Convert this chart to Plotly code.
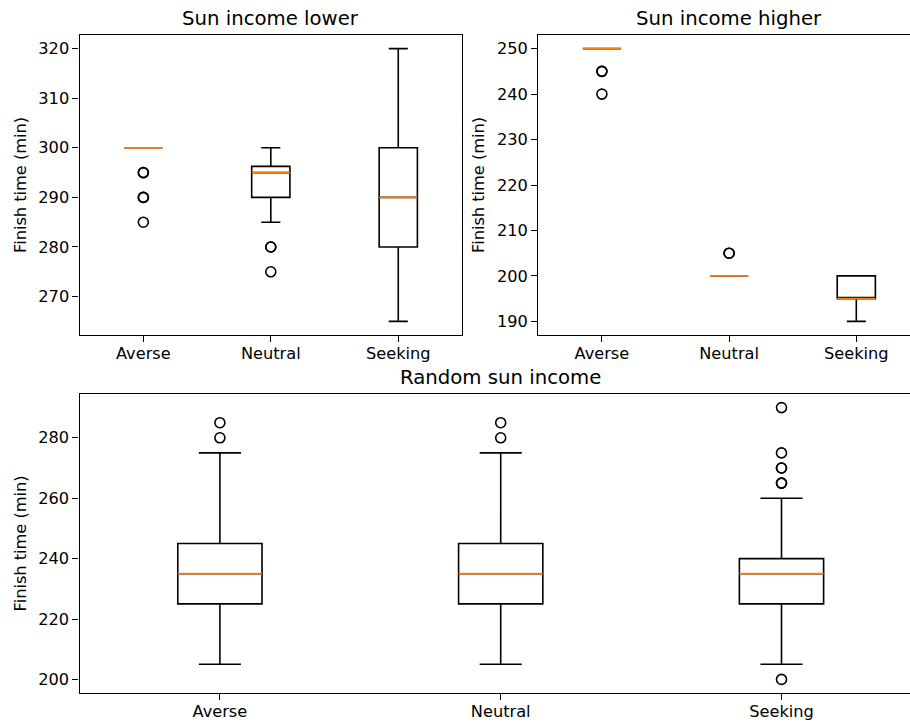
import plotly.graph_objects as go

# ---------------- data ----------------
categories = ["Averse", "Neutral", "Seeking"]
positions = [1, 2, 3]

# Sun income lower
low_q1 = [300, 290, 280]
low_median = [300, 295, 290]
low_q3 = [300, 296.25, 300]
low_lowerfence = [300, 285, 265]
low_upperfence = [300, 300, 320]
low_outliers = [[295, 295, 290, 290, 285], [280, 280, 275], []]

# Sun income higher
high_q1 = [250, 200, 195]
high_median = [250, 200, 195]
high_q3 = [250, 200, 200]
high_lowerfence = [250, 200, 190]
high_upperfence = [250, 200, 200]
high_outliers = [[245, 245, 240], [205, 205], []]

# Random sun income
rand_q1 = [225, 225, 225]
rand_median = [235, 235, 235]
rand_q3 = [245, 245, 240]
rand_lowerfence = [205, 205, 205]
rand_upperfence = [275, 275, 260]
rand_outliers = [[280, 285], [280, 285], [265, 265, 270, 270, 275, 290, 200]]

titles = ["Sun income lower", "Sun income higher", "Random sun income"]
ylabel = "Finish time (min)"

# ---------------- style ----------------
W, H = 910, 724
FONT = "DejaVu Sans"
BOXW = 0.3
ORANGE = "#ff7f0e"

fig = go.Figure()

panels = [
    dict(q1=low_q1, med=low_median, q3=low_q3, lf=low_lowerfence, uf=low_upperfence,
         out=low_outliers, xa="x", ya="y"),
    dict(q1=high_q1, med=high_median, q3=high_q3, lf=high_lowerfence, uf=high_upperfence,
         out=high_outliers, xa="x2", ya="y2"),
    dict(q1=rand_q1, med=rand_median, q3=rand_q3, lf=rand_lowerfence, uf=rand_upperfence,
         out=rand_outliers, xa="x3", ya="y3"),
]

for p in panels:
    fig.add_trace(go.Box(
        x=positions, q1=p["q1"], median=p["med"], q3=p["q3"],
        lowerfence=p["lf"], upperfence=p["uf"],
        width=BOXW, whiskerwidth=0.5, boxpoints=False,
        line=dict(color="black", width=1.6), fillcolor="rgba(0,0,0,0)",
        xaxis=p["xa"], yaxis=p["ya"], showlegend=False, hoverinfo="skip",
    ))
    mx, my = [], []
    for pos, m in zip(positions, p["med"]):
        mx += [pos - BOXW / 2, pos + BOXW / 2, None]
        my += [m, m, None]
    fig.add_trace(go.Scatter(
        x=mx, y=my, mode="lines", line=dict(color=ORANGE, width=1.8),
        xaxis=p["xa"], yaxis=p["ya"], showlegend=False, hoverinfo="skip",
    ))
    ox, oy = [], []
    for pos, outs in zip(positions, p["out"]):
        ox += [pos] * len(outs)
        oy += outs
    fig.add_trace(go.Scatter(
        x=ox, y=oy, mode="markers",
        marker=dict(symbol="circle-open", size=10, color="black", line=dict(width=1.6, color="black")),
        xaxis=p["xa"], yaxis=p["ya"], showlegend=False, hoverinfo="skip",
    ))

def px_x(v):
    return v / W

def px_y(v):
    return 1 - v / H

tickfont = dict(family=FONT, size=16.2, color="black")
common_x = dict(tickmode="array", tickvals=positions, ticktext=categories,
                ticks="outside", ticklen=6, tickwidth=1.3, tickcolor="black",
                showline=True, linecolor="black", linewidth=1.3, mirror=True,
                showgrid=False, zeroline=False, tickfont=tickfont, ticklabelstandoff=-3)
common_y = dict(ticks="outside", ticklen=6, tickwidth=1.3, tickcolor="black",
                showline=True, linecolor="black", linewidth=1.3,
                showgrid=False, zeroline=False, tickfont=tickfont)

fig.update_layout(
    width=W, height=H,
    margin=dict(l=0, r=0, t=0, b=0),
    paper_bgcolor="white", plot_bgcolor="white",
    font=dict(family=FONT, color="black"),
    xaxis=dict(domain=[px_x(79.6), px_x(462)], range=[0.5, 3.5], anchor="y", **common_x),
    yaxis=dict(domain=[px_y(335), px_y(35)], range=[262.25, 322.75], anchor="x",
               tickvals=[270, 280, 290, 300, 310, 320], mirror=True, **common_y),
    xaxis2=dict(domain=[px_x(538.3), 1.0], range=[0.5, 0.5 + (910 - 538.3) / 127.2], anchor="y2", **common_x),
    yaxis2=dict(domain=[px_y(335), px_y(35)], range=[187, 253], anchor="x2",
                tickvals=[190, 200, 210, 220, 230, 240, 250], mirror=False, **common_y),
    xaxis3=dict(domain=[px_x(79.5), 1.0], range=[0.5, 0.5 + (910 - 79.5) / 280.8], anchor="y3", **common_x),
    yaxis3=dict(domain=[px_y(693), px_y(394)], range=[195.5, 294.5], anchor="x3",
                tickvals=[200, 220, 240, 260, 280], mirror=False, **common_y),
)

title_font = dict(family=FONT, size=19.7, color="black")
label_font = dict(family=FONT, size=16.2, color="black")
ann = [
    dict(text=titles[0], x=px_x(270.8), y=px_y(18.5)),
    dict(text=titles[1], x=px_x(729), y=px_y(18.5)),
    dict(text=titles[2], x=px_x(500), y=px_y(377)),
]
for a in ann:
    fig.add_annotation(xref="paper", yref="paper", xanchor="center", yanchor="middle",
                       showarrow=False, font=title_font, **a)
for lx, ly in [(20, 185), (478, 185), (20, 543.5)]:
    fig.add_annotation(text=ylabel, xref="paper", yref="paper", x=px_x(lx), y=px_y(ly),
                       xanchor="center", yanchor="middle", textangle=-90,
                       showarrow=False, font=label_font)

fig.write_html(
    "out.html",
    config={"displayModeBar": False},
    post_script="document.body.style.margin='0';document.body.style.overflow='hidden';",
)
